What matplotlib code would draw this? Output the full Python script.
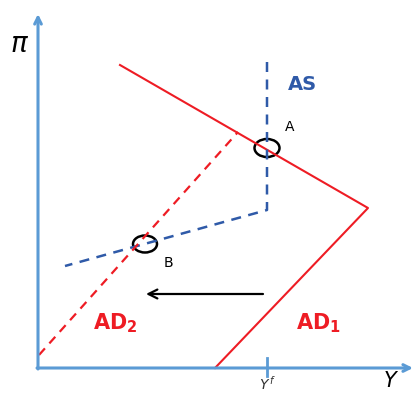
import matplotlib.pyplot as plt
from matplotlib.patches import Ellipse

# coordinates in picture space (x right, y down)
origin = (38, 368)
y_axis_top = (38, 14)
x_axis_end = (413, 368)
yf_x = 267

ad1_x = [120, 368, 215]
ad1_y = [65, 208, 368]

as_x = [267, 267, 65]
as_y = [62, 210, 266]

ad2_x = [39, 238]
ad2_y = [355, 132]

point_a = (267, 148)
point_b = (145, 244)
shift_from = (263, 294)
shift_to = (146, 294)

red = "#ee1c24"
blue = "#2f5aa8"
axis_blue = "#5b9bd5"

fig = plt.figure(figsize=(4.15, 3.93), dpi=100)
ax = fig.add_axes([0, 0, 1, 1])
ax.set_xlim(0, 415)
ax.set_ylim(393, 0)
ax.axis("off")

# axes with arrows
ax.annotate("", xy=y_axis_top, xytext=(origin[0], origin[1] + 1),
            arrowprops=dict(arrowstyle="->", color=axis_blue, lw=2.2,
                            mutation_scale=12, shrinkA=0, shrinkB=0))
ax.annotate("", xy=x_axis_end, xytext=(origin[0] - 1, origin[1]),
            arrowprops=dict(arrowstyle="->", color=axis_blue, lw=2.2,
                            mutation_scale=12, shrinkA=0, shrinkB=0))
ax.plot([yf_x, yf_x], [358, 376], color=axis_blue, lw=2)

ax.text(20, 44, r"$\pi$", fontsize=20, ha="center", va="center")
ax.text(390, 381, "Y", fontsize=15, style="italic", ha="center", va="center")
ax.text(268, 384, r"$Y^{\,f}$", fontsize=10, ha="center", va="center",
        family="serif", color="#333333")

# curves
ax.plot(ad1_x, ad1_y, color=red, lw=1.5)
ax.plot(as_x, as_y, color=blue, lw=1.8, linestyle=(0, (4, 3)))
ax.plot(ad2_x, ad2_y, color=red, lw=1.6, linestyle=(0, (4, 3)))

# equilibrium points
for p, w, h in [(point_a, 25, 18), (point_b, 24, 17)]:
    ax.add_patch(Ellipse(p, w, h, fill=False, edgecolor="black", lw=1.8))
ax.text(290, 127, "A", fontsize=10, ha="center", va="center")
ax.text(168, 263, "B", fontsize=10, ha="center", va="center")

# shift arrow
ax.annotate("", xy=shift_to, xytext=shift_from,
            arrowprops=dict(arrowstyle="->", color="black", lw=1.6,
                            mutation_scale=16, shrinkA=0, shrinkB=0))

# labels
ax.text(302, 85, "AS", fontsize=14, fontweight="bold", color=blue,
        ha="center", va="center")
ax.text(115, 323, r"AD$_\mathbf{2}$", fontsize=15, fontweight="bold",
        color=red, ha="center", va="center")
ax.text(318, 323, r"AD$_\mathbf{1}$", fontsize=15, fontweight="bold",
        color=red, ha="center", va="center")

fig.savefig("out.png", dpi=100)
